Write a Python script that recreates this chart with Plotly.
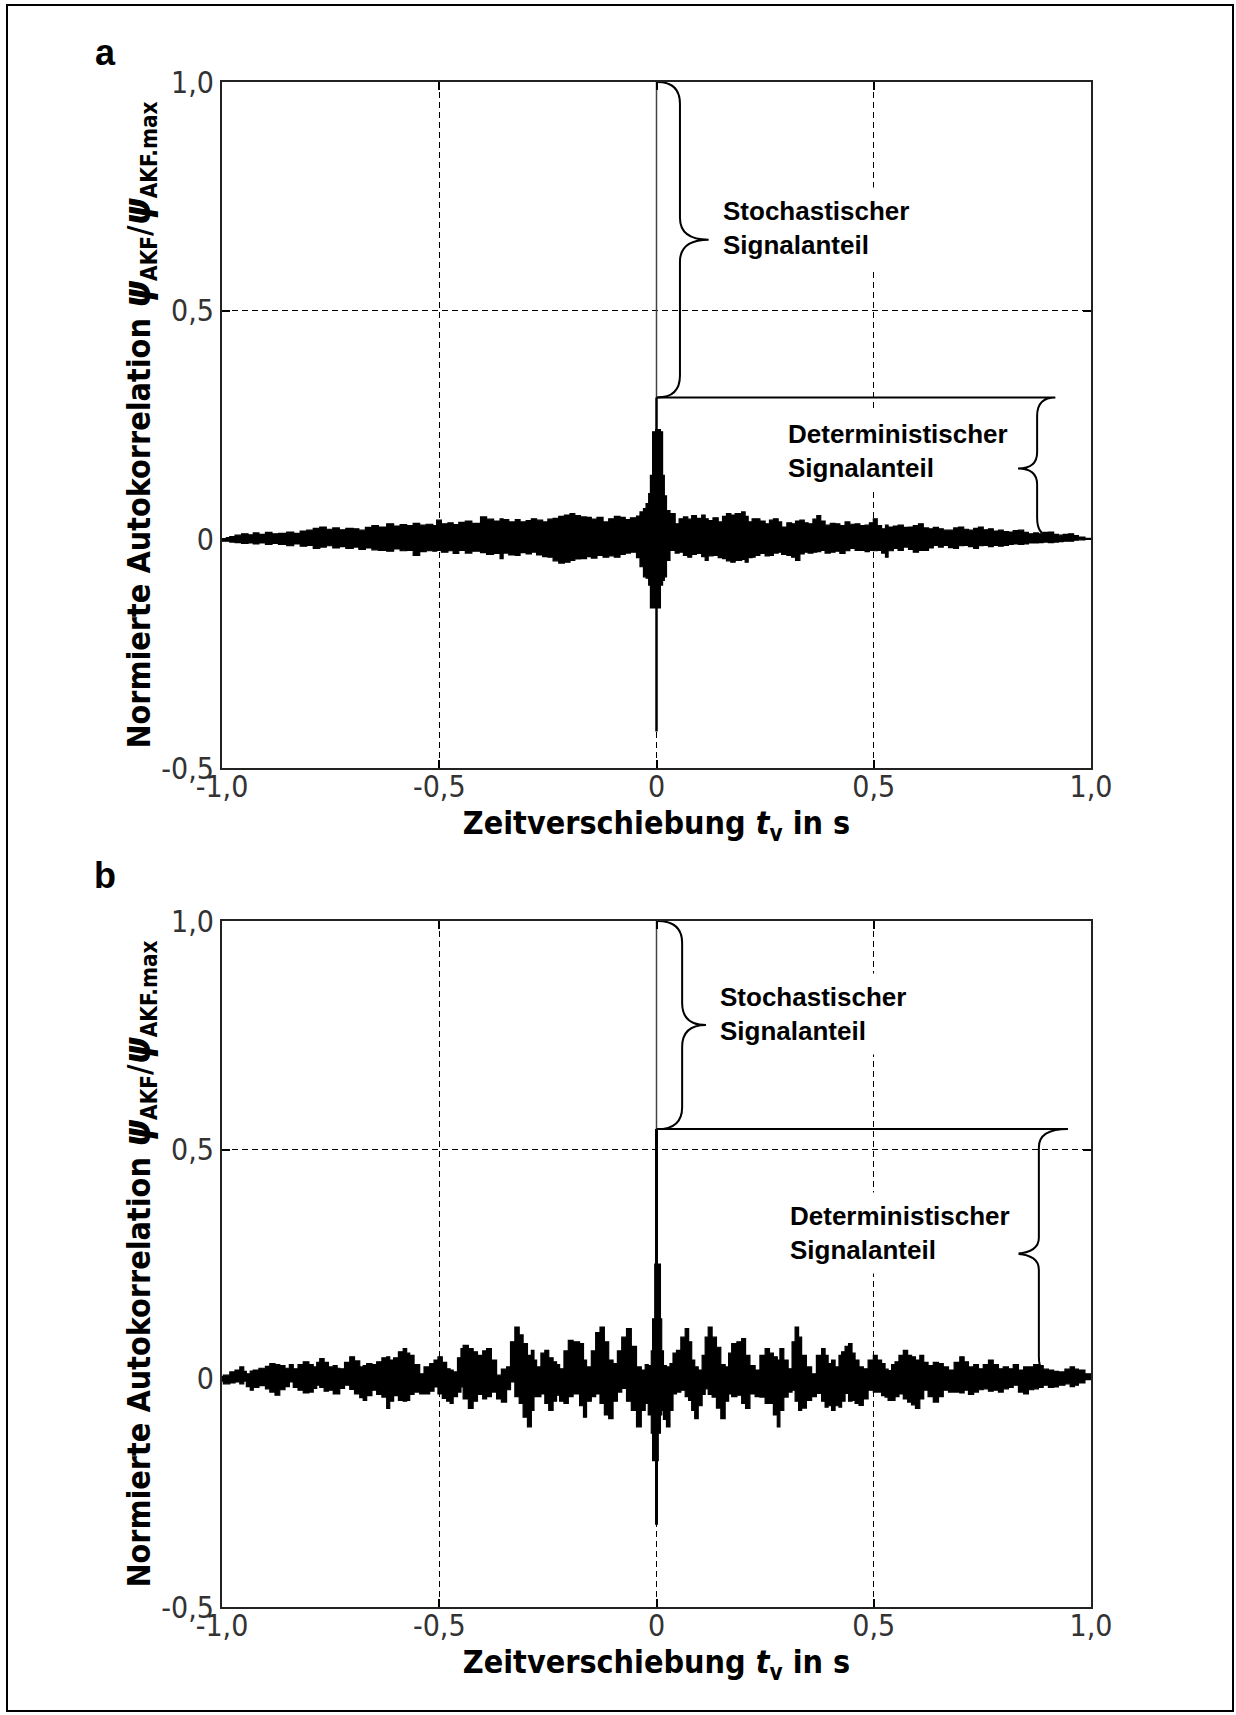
import plotly.graph_objects as go

# ---------------- data ----------------
X_TICKS = [-1.0, -0.5, 0.0, 0.5, 1.0]
X_LABELS = ["-1,0", "-0,5", "0", "0,5", "1,0"]
Y_TICKS = [-0.5, 0.0, 0.5, 1.0]
Y_LABELS = ["-0,5", "0", "0,5", "1,0"]

# panel a: envelope of the autocorrelation trace (upper / lower)
T_A = [-1.000, -0.990, -0.982, -0.970, -0.955, -0.940, -0.928, -0.915, -0.900, -0.885,
       -0.870, -0.851, -0.835, -0.820, -0.805, -0.790, -0.775, -0.760, -0.745, -0.730,
       -0.715, -0.698, -0.685, -0.670, -0.655, -0.640, -0.621, -0.605, -0.590, -0.575,
       -0.560, -0.545, -0.530, -0.515, -0.506, -0.495, -0.480, -0.468, -0.455, -0.440,
       -0.425, -0.405, -0.391, -0.375, -0.360, -0.353, -0.340, -0.325, -0.314, -0.300,
       -0.288, -0.276, -0.262, -0.250, -0.238, -0.225, -0.212, -0.199, -0.188, -0.175,
       -0.161, -0.150, -0.137, -0.123, -0.110, -0.097, -0.084, -0.072, -0.060, -0.046,
       -0.038, -0.030, -0.024, -0.018, -0.014, -0.009, -0.002,
       0.002, 0.009, 0.014, 0.018, 0.023, 0.031, 0.043, 0.052, 0.062, 0.072,
       0.081, 0.092, 0.104, 0.112, 0.119, 0.130, 0.142, 0.152, 0.161, 0.171,
       0.181, 0.196, 0.204, 0.211, 0.220, 0.227, 0.238, 0.250, 0.260, 0.269,
       0.280, 0.288, 0.300, 0.311, 0.320, 0.330, 0.340, 0.349, 0.360, 0.369,
       0.378, 0.388, 0.400, 0.411, 0.422, 0.434, 0.445, 0.457, 0.468, 0.480,
       0.490, 0.499, 0.508, 0.518, 0.527, 0.533, 0.545, 0.556, 0.568, 0.580,
       0.591, 0.603, 0.614, 0.626, 0.637, 0.649, 0.660, 0.672, 0.684, 0.695,
       0.707, 0.718, 0.730, 0.741, 0.752, 0.764, 0.775, 0.787, 0.798, 0.810,
       0.821, 0.833, 0.845, 0.856, 0.868, 0.879, 0.890, 0.902, 0.914, 0.925,
       0.936, 0.948, 0.960, 0.971, 0.986, 1.000]
UP_A = [0.000, 0.004, 0.006, 0.009, 0.012, 0.010, 0.014, 0.011, 0.015, 0.012,
        0.013, 0.016, 0.013, 0.018, 0.020, 0.024, 0.027, 0.022, 0.025, 0.021,
        0.024, 0.023, 0.020, 0.026, 0.030, 0.027, 0.034, 0.029, 0.032, 0.030,
        0.035, 0.031, 0.033, 0.030, 0.042, 0.034, 0.036, 0.032, 0.037, 0.040,
        0.035, 0.049, 0.044, 0.040, 0.045, 0.043, 0.038, 0.043, 0.038, 0.041,
        0.045, 0.042, 0.038, 0.044, 0.046, 0.050, 0.053, 0.056, 0.052, 0.049,
        0.048, 0.044, 0.048, 0.038, 0.045, 0.050, 0.048, 0.043, 0.047, 0.051,
        0.060, 0.067, 0.078, 0.100, 0.140, 0.235, 0.240,
        0.240, 0.235, 0.140, 0.095, 0.063, 0.056, 0.034, 0.045, 0.049, 0.044,
        0.052, 0.046, 0.053, 0.045, 0.041, 0.047, 0.038, 0.050, 0.056, 0.053,
        0.056, 0.060, 0.050, 0.038, 0.045, 0.045, 0.040, 0.034, 0.042, 0.045,
        0.038, 0.027, 0.036, 0.034, 0.040, 0.042, 0.036, 0.034, 0.044, 0.052,
        0.040, 0.031, 0.035, 0.034, 0.030, 0.038, 0.033, 0.034, 0.030, 0.031,
        0.036, 0.045, 0.030, 0.023, 0.031, 0.027, 0.029, 0.031, 0.026, 0.027,
        0.030, 0.034, 0.025, 0.023, 0.026, 0.023, 0.020, 0.020, 0.025, 0.027,
        0.022, 0.020, 0.024, 0.027, 0.021, 0.023, 0.018, 0.020, 0.017, 0.016,
        0.019, 0.020, 0.015, 0.012, 0.014, 0.012, 0.015, 0.016, 0.011, 0.009,
        0.011, 0.012, 0.008, 0.005, 0.002, 0.000]
LO_A = [0.000, -0.004, -0.004, -0.006, -0.007, -0.009, -0.008, -0.010, -0.008, -0.011,
        -0.009, -0.011, -0.014, -0.010, -0.015, -0.013, -0.020, -0.017, -0.014, -0.019,
        -0.016, -0.020, -0.017, -0.022, -0.019, -0.023, -0.024, -0.026, -0.021, -0.025,
        -0.024, -0.035, -0.027, -0.025, -0.026, -0.024, -0.028, -0.025, -0.031, -0.024,
        -0.030, -0.026, -0.029, -0.033, -0.031, -0.042, -0.030, -0.034, -0.035, -0.029,
        -0.032, -0.028, -0.034, -0.038, -0.039, -0.047, -0.052, -0.050, -0.046, -0.043,
        -0.042, -0.038, -0.041, -0.035, -0.039, -0.036, -0.039, -0.033, -0.030, -0.028,
        -0.040, -0.060, -0.082, -0.085, -0.100, -0.150, -0.150,
        -0.150, -0.150, -0.100, -0.090, -0.082, -0.046, -0.024, -0.030, -0.028, -0.035,
        -0.039, -0.033, -0.031, -0.038, -0.046, -0.036, -0.035, -0.040, -0.042, -0.047,
        -0.050, -0.046, -0.044, -0.050, -0.040, -0.039, -0.035, -0.031, -0.036, -0.035,
        -0.030, -0.028, -0.033, -0.035, -0.039, -0.046, -0.032, -0.028, -0.030, -0.028,
        -0.027, -0.024, -0.030, -0.028, -0.026, -0.031, -0.025, -0.020, -0.024, -0.024,
        -0.027, -0.024, -0.025, -0.024, -0.030, -0.039, -0.025, -0.020, -0.024, -0.017,
        -0.022, -0.028, -0.024, -0.024, -0.019, -0.013, -0.017, -0.013, -0.018, -0.020,
        -0.014, -0.013, -0.016, -0.020, -0.014, -0.013, -0.016, -0.013, -0.015, -0.013,
        -0.011, -0.010, -0.011, -0.010, -0.008, -0.008, -0.007, -0.006, -0.007, -0.006,
        -0.005, -0.004, -0.004, -0.002, -0.001, 0.000]
# panel a: central line at t = 0 (min, deterministic peak, ACF max)
SPIKE_A = [-0.42, 0.31, 1.0]

# panel b
T_B = [-1.000, -0.997, -0.982, -0.970, -0.959, -0.950, -0.944, -0.935, -0.928, -0.915,
       -0.900, -0.890, -0.878, -0.867, -0.855, -0.845, -0.836, -0.825, -0.813, -0.800,
       -0.790, -0.782, -0.775, -0.765, -0.755, -0.744, -0.735, -0.729, -0.718, -0.706,
       -0.695, -0.683, -0.675, -0.667, -0.655, -0.644, -0.632, -0.621, -0.614, -0.605,
       -0.594, -0.583, -0.575, -0.568, -0.558, -0.545, -0.535, -0.522, -0.512, -0.503,
       -0.493, -0.483, -0.475, -0.468, -0.458, -0.450, -0.445, -0.433, -0.422, -0.412,
       -0.400, -0.391, -0.380, -0.368, -0.357, -0.345, -0.336, -0.326, -0.316, -0.307,
       -0.297, -0.288, -0.282, -0.276, -0.266, -0.257, -0.248, -0.238, -0.230, -0.223,
       -0.213, -0.203, -0.192, -0.177, -0.168, -0.161, -0.150, -0.140, -0.130, -0.120,
       -0.110, -0.100, -0.090, -0.080, -0.069, -0.058, -0.046, -0.035, -0.026, -0.019,
       -0.012, -0.009, -0.004,
       0.004, 0.009, 0.012, 0.016, 0.023, 0.031, 0.038, 0.046, 0.056, 0.066,
       0.074, 0.081, 0.088, 0.096, 0.105, 0.112, 0.119, 0.128, 0.138, 0.148,
       0.158, 0.166, 0.173, 0.185, 0.196, 0.205, 0.215, 0.227, 0.238, 0.250,
       0.260, 0.269, 0.278, 0.284, 0.293, 0.303, 0.312, 0.319, 0.327, 0.334,
       0.345, 0.357, 0.368, 0.380, 0.388, 0.395, 0.403, 0.411, 0.420, 0.426,
       0.434, 0.442, 0.450, 0.457, 0.466, 0.476, 0.487, 0.499, 0.508, 0.518,
       0.526, 0.533, 0.541, 0.549, 0.558, 0.568, 0.578, 0.587, 0.596, 0.606,
       0.615, 0.625, 0.637, 0.649, 0.660, 0.672, 0.685, 0.698, 0.708, 0.718,
       0.730, 0.741, 0.752, 0.764, 0.775, 0.787, 0.798, 0.810, 0.821, 0.833,
       0.845, 0.856, 0.868, 0.879, 0.890, 0.902, 0.914, 0.925, 0.940, 0.952,
       0.962, 0.971, 0.986, 1.000]
UP_B = [0.004, 0.007, 0.014, 0.018, 0.025, 0.015, 0.010, 0.016, 0.018, 0.022,
        0.026, 0.032, 0.030, 0.028, 0.022, 0.030, 0.021, 0.030, 0.036, 0.030,
        0.025, 0.035, 0.043, 0.035, 0.025, 0.028, 0.022, 0.021, 0.035, 0.047,
        0.038, 0.025, 0.028, 0.032, 0.030, 0.036, 0.045, 0.047, 0.040, 0.045,
        0.058, 0.065, 0.055, 0.050, 0.030, 0.010, 0.025, 0.032, 0.040, 0.047,
        0.035, 0.021, 0.018, 0.014, 0.045, 0.065, 0.072, 0.065, 0.058, 0.050,
        0.060, 0.065, 0.040, 0.007, 0.020, 0.025, 0.080, 0.112, 0.095, 0.076,
        0.050, 0.061, 0.040, 0.025, 0.055, 0.061, 0.045, 0.036, 0.030, 0.021,
        0.060, 0.083, 0.080, 0.076, 0.040, 0.025, 0.060, 0.100, 0.112, 0.080,
        0.040, 0.032, 0.060, 0.090, 0.109, 0.070, 0.025, 0.018, 0.030, 0.028,
        0.060, 0.130, 0.250,
        0.250, 0.130, 0.060, 0.028, 0.025, 0.032, 0.055, 0.061, 0.090, 0.109,
        0.080, 0.040, 0.025, 0.018, 0.050, 0.090, 0.112, 0.090, 0.068, 0.030,
        0.025, 0.055, 0.076, 0.080, 0.087, 0.050, 0.028, 0.018, 0.050, 0.065,
        0.055, 0.047, 0.040, 0.065, 0.040, 0.021, 0.080, 0.112, 0.090, 0.050,
        0.025, 0.010, 0.050, 0.065, 0.050, 0.032, 0.040, 0.025, 0.050, 0.058,
        0.070, 0.076, 0.055, 0.040, 0.025, 0.021, 0.040, 0.050, 0.040, 0.032,
        0.020, 0.017, 0.030, 0.036, 0.050, 0.061, 0.050, 0.047, 0.040, 0.050,
        0.035, 0.028, 0.035, 0.032, 0.025, 0.018, 0.035, 0.047, 0.036, 0.025,
        0.030, 0.021, 0.030, 0.040, 0.030, 0.021, 0.025, 0.021, 0.030, 0.018,
        0.025, 0.025, 0.030, 0.028, 0.020, 0.018, 0.015, 0.014, 0.020, 0.025,
        0.020, 0.018, 0.010, 0.003]
LO_B = [-0.004, -0.006, -0.012, -0.010, -0.008, -0.012, -0.006, -0.018, -0.026, -0.020,
        -0.016, -0.023, -0.030, -0.037, -0.025, -0.018, -0.008, -0.020, -0.026, -0.032,
        -0.030, -0.022, -0.015, -0.020, -0.028, -0.026, -0.034, -0.034, -0.022, -0.015,
        -0.024, -0.034, -0.042, -0.048, -0.038, -0.026, -0.035, -0.041, -0.066, -0.050,
        -0.038, -0.048, -0.050, -0.048, -0.035, -0.030, -0.034, -0.034, -0.028, -0.019,
        -0.034, -0.044, -0.050, -0.055, -0.040, -0.030, -0.019, -0.045, -0.066, -0.050,
        -0.035, -0.045, -0.040, -0.030, -0.045, -0.052, -0.025, -0.008, -0.040, -0.055,
        -0.085, -0.106, -0.070, -0.040, -0.040, -0.034, -0.055, -0.070, -0.050, -0.037,
        -0.050, -0.055, -0.040, -0.034, -0.060, -0.085, -0.050, -0.040, -0.034, -0.055,
        -0.080, -0.088, -0.050, -0.030, -0.022, -0.050, -0.070, -0.106, -0.070, -0.055,
        -0.080, -0.120, -0.180,
        -0.180, -0.120, -0.080, -0.070, -0.090, -0.106, -0.070, -0.034, -0.030, -0.026,
        -0.040, -0.048, -0.070, -0.088, -0.060, -0.035, -0.023, -0.035, -0.041, -0.065,
        -0.088, -0.050, -0.034, -0.040, -0.037, -0.055, -0.066, -0.034, -0.040, -0.041,
        -0.055, -0.055, -0.080, -0.106, -0.070, -0.041, -0.030, -0.026, -0.050, -0.070,
        -0.065, -0.048, -0.040, -0.033, -0.050, -0.063, -0.060, -0.070, -0.060, -0.063,
        -0.050, -0.033, -0.050, -0.048, -0.055, -0.059, -0.045, -0.026, -0.030, -0.030,
        -0.038, -0.041, -0.048, -0.048, -0.040, -0.034, -0.045, -0.052, -0.058, -0.066,
        -0.045, -0.026, -0.040, -0.052, -0.040, -0.026, -0.030, -0.030, -0.032, -0.026,
        -0.035, -0.030, -0.025, -0.023, -0.028, -0.026, -0.030, -0.023, -0.020, -0.015,
        -0.030, -0.034, -0.025, -0.023, -0.020, -0.015, -0.020, -0.019, -0.015, -0.012,
        -0.018, -0.015, -0.010, -0.003]
SPIKE_B = [-0.32, 0.545, 1.0]

# annotation geometry (data units): [stochastic brace x, tip x, det brace x, tip x, line end x]
BRACE_A = [0.054, 0.120, 0.876, 0.832, 0.918]
BRACE_B = [0.059, 0.114, 0.880, 0.818, 0.947]
LABEL_STOCH = "Stochastischer<br>Signalanteil"
LABEL_DET = "Deterministischer<br>Signalanteil"
PANEL_LABELS = ["a", "b"]

# ---------------- figure ----------------
NARROW = "DejaVu Sans Condensed, Liberation Sans Narrow, Arial Narrow, sans-serif"
SANS = "Liberation Sans, Arial, Helvetica, sans-serif"

fig = go.Figure()


def band(t, up, lo, xa, ya):
    xs = list(t) + list(reversed(t))
    ys = list(up) + list(reversed(lo))
    fig.add_trace(go.Scatter(x=xs, y=ys, mode="lines", fill="toself", line_shape="hv",
                             fillcolor="black", line=dict(color="black", width=1.2),
                             xaxis=xa, yaxis=ya, showlegend=False, hoverinfo="skip"))


def spike(vals, xa, ya, w):
    fig.add_trace(go.Scatter(x=[0, 0], y=[vals[0], vals[1]], mode="lines",
                             line=dict(color="black", width=w), xaxis=xa, yaxis=ya,
                             showlegend=False, hoverinfo="skip"))
    fig.add_trace(go.Scatter(x=[0, 0], y=[vals[1], vals[2]], mode="lines",
                             line=dict(color="#444", width=1.5), xaxis=xa, yaxis=ya,
                             showlegend=False, hoverinfo="skip"))


band(T_A, UP_A, LO_A, "x", "y")
spike(SPIKE_A, "x", "y", 2.5)
band(T_B, UP_B, LO_B, "x2", "y2")
spike(SPIKE_B, "x2", "y2", 3)


def brace_paths(br, peak, xref, yref):
    xs, xt, xd, xdt, xe = br
    ymid = (1.0 + peak) / 2
    r = 0.048
    p1 = (f"M 0.002,1.0 Q {xs},1.0 {xs},{1.0 - r} L {xs},{ymid + r} "
          f"Q {xs},{ymid} {xt},{ymid} Q {xs},{ymid} {xs},{ymid - r} "
          f"L {xs},{peak + r} Q {xs},{peak} 0.002,{peak}")
    dm = peak / 2
    r2 = 0.04
    p2 = (f"M 0.0,{peak} L {xe},{peak} Q {xd},{peak} {xd},{peak - r2} "
          f"L {xd},{dm + 0.035} Q {xd},{dm} {xdt},{dm} Q {xd},{dm} {xd},{dm - 0.035} "
          f"L {xd},{0.008 + r2} Q {xd},0.008 {xd + 0.03},0.008")
    for p in (p1, p2):
        fig.add_shape(type="path", path=p, xref=xref, yref=yref,
                      line=dict(color="black", width=2))


brace_paths(BRACE_A, SPIKE_A[1], "x", "y")
brace_paths(BRACE_B, SPIKE_B[1], "x2", "y2")

ann_font = dict(family=SANS, size=26, color="black", weight="bold")
for (xr, yr, br, peak) in [("x", "y", BRACE_A, SPIKE_A[1]), ("x2", "y2", BRACE_B, SPIKE_B[1])]:
    fig.add_annotation(x=br[1] + 0.012, y=(1.0 + peak) / 2 + 0.025, xref=xr, yref=yr,
                       text=LABEL_STOCH, showarrow=False, xanchor="left", yanchor="middle",
                       align="left", font=ann_font, bgcolor="white", borderpad=8)

fig.add_annotation(x=0.282, y=0.193, xref="x", yref="y", text=LABEL_DET, showarrow=False,
                   xanchor="left", yanchor="middle", align="left", font=ann_font,
                   bgcolor="white", borderpad=8)
fig.add_annotation(x=0.287, y=0.318, xref="x2", yref="y2", text=LABEL_DET, showarrow=False,
                   xanchor="left", yanchor="middle", align="left", font=ann_font,
                   bgcolor="white", borderpad=8)

for lbl, yy in zip(PANEL_LABELS, [1 - 52 / 1715, 1 - 875 / 1715]):
    fig.add_annotation(x=105 / 1236, y=yy, xref="paper", yref="paper", text=lbl,
                       showarrow=False, xanchor="center", yanchor="middle",
                       font=dict(family=SANS, size=36, color="black", weight="bold"))

# outer frame
fig.add_shape(type="rect", xref="paper", yref="paper", x0=7 / 1236, x1=1233 / 1236,
              y0=4 / 1715, y1=1 - 5 / 1715, line=dict(color="black", width=2), layer="below")

title_font = dict(family=NARROW, size=32, color="black", weight="bold")
tick_font = dict(family=NARROW, size=30, color="#333")

x_title = "Zeitverschiebung <i>t</i><sub>v</sub> in s"
y_title = ("Normierte Autokorrelation <i><span style='font-size:38px'>ψ</span></i><sub>AKF</sub>"
           "/<i><span style='font-size:38px'>ψ</span></i><sub>AKF.max</sub>")

common_x = dict(range=[-1, 1], tickvals=X_TICKS, ticktext=X_LABELS, showline=True,
                linecolor="#222", linewidth=2, mirror="ticks", ticks="inside", ticklen=8,
                tickwidth=1.5, tickcolor="black", showgrid=True, gridcolor="black",
                griddash="6px,4px", gridwidth=1.3, zeroline=False, tickfont=tick_font,
                automargin=False, ticklabelstandoff=-9,
                title=dict(text=x_title, font=title_font, standoff=0), fixedrange=True)
common_y = dict(range=[-0.5, 1.0], tickvals=Y_TICKS, ticktext=Y_LABELS, showline=True,
                linecolor="#222", linewidth=2, mirror="ticks", ticks="inside", ticklen=8,
                tickwidth=1.5, tickcolor="black", showgrid=True, gridcolor="black",
                griddash="6px,4px", gridwidth=1.3, zeroline=False, tickfont=tick_font,
                automargin=False,
                title=dict(text=y_title, font=title_font, standoff=1), fixedrange=True)

xd = [222 / 1236, 1091 / 1236]
fig.update_layout(
    width=1236, height=1715,
    margin=dict(l=0, r=0, t=0, b=0, autoexpand=False),
    paper_bgcolor="white", plot_bgcolor="white",
    xaxis=dict(common_x, domain=xd, anchor="y"),
    yaxis=dict(common_y, domain=[1 - 768 / 1715, 1 - 82 / 1715], anchor="x"),
    xaxis2=dict(common_x, domain=xd, anchor="y2"),
    yaxis2=dict(common_y, domain=[1 - 1607 / 1715, 1 - 921 / 1715], anchor="x2"),
    showlegend=False,
)

fig.write_html("out.html")
